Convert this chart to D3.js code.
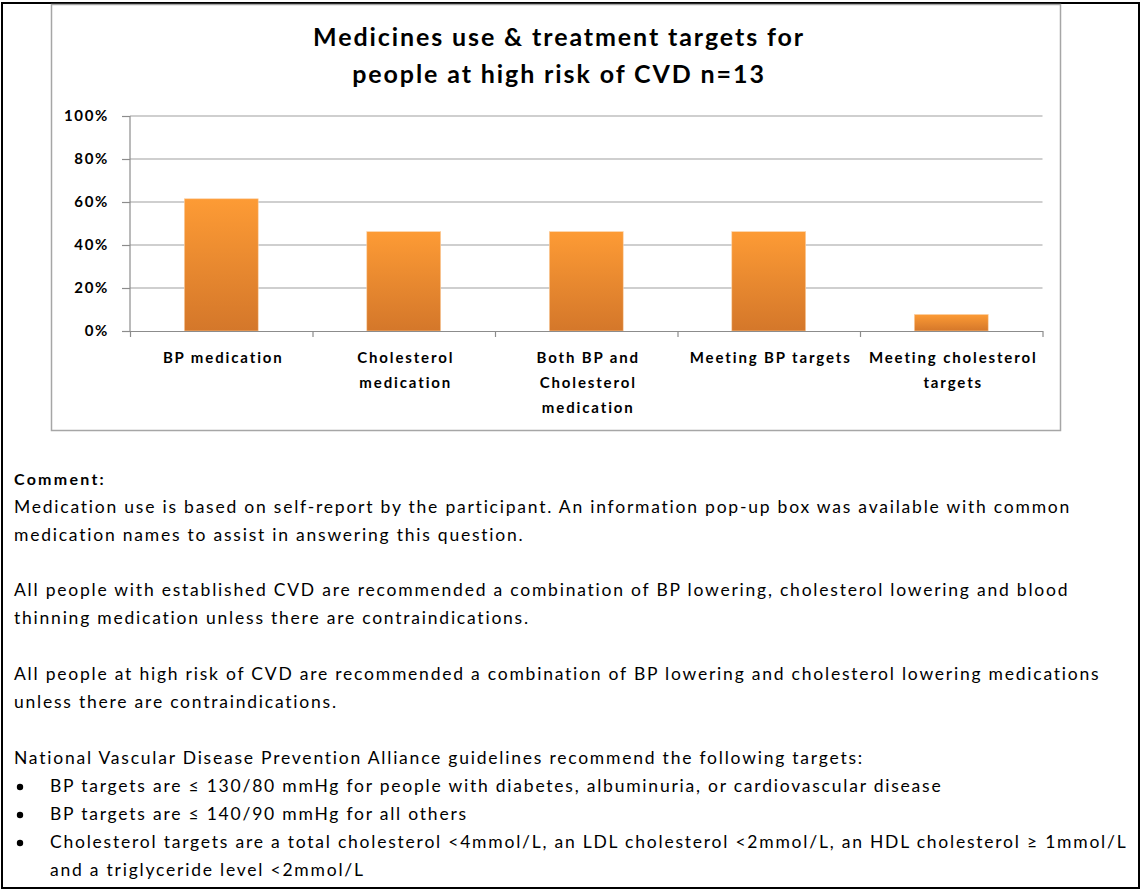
<!DOCTYPE html>
<html>
<head>
<meta charset="utf-8">
<script src="https://cdn.jsdelivr.net/npm/d3@7"></script>
<style>
  body { margin: 0; background: #fff; }
  svg { display: block; }
</style>
</head>
<body>
<svg width="1141" height="890"></svg>
<script>
// data
let categories = [
    ["BP medication"],
    ["Cholesterol", "medication"],
    ["Both BP and", "Cholesterol", "medication"],
    ["Meeting BP targets"],
    ["Meeting cholesterol", "targets"]
];
let values = [0.615, 0.462, 0.462, 0.462, 0.077];
let yTicks = [0, 0.2, 0.4, 0.6, 0.8, 1.0];
let titleLines = ["Medicines use & treatment targets for", "people at high risk of CVD n=13"];

let commentLines = [
    "Medication use is based on self-report by the participant. An information pop-up box was available with common",
    "medication names to assist in answering this question.",
    "",
    "All people with established CVD are recommended a combination of BP lowering, cholesterol lowering and blood",
    "thinning medication unless there are contraindications.",
    "",
    "All people at high risk of CVD are recommended a combination of BP lowering and cholesterol lowering medications",
    "unless there are contraindications.",
    ""
];
let guideline = "National Vascular Disease Prevention Alliance guidelines recommend the following targets:";
let bullets = [
    ["BP targets are \u2264 130/80 mmHg for people with diabetes, albuminuria, or cardiovascular disease"],
    ["BP targets are \u2264 140/90 mmHg for all others"],
    ["Cholesterol targets are a total cholesterol <4mmol/L, an LDL cholesterol <2mmol/L, an HDL cholesterol \u2265 1mmol/L",
     "and a triglyceride level <2mmol/L"]
];

let svg = d3.select("svg");
let font = "Lato, 'Open Sans', sans-serif";

// spacing needed so that a text node gets the wanted width
function spacingFor(node, target) {
    let w = node.getComputedTextLength();
    let n = node.textContent.length;
    return (target - w) / n;
}

// outer frame
svg.append("rect")
    .attr("x", 2).attr("y", 3)
    .attr("width", 1137).attr("height", 885)
    .attr("fill", "none")
    .attr("stroke", "#000")
    .attr("stroke-width", 2);

// chart box
svg.append("rect")
    .attr("x", 51.5).attr("y", 4.5)
    .attr("width", 1009).attr("height", 426)
    .attr("fill", "#fff")
    .attr("stroke", "#a6a6a6")
    .attr("stroke-width", 1.5);

// title
let titles = svg.append("g").selectAll("text")
    .data(titleLines)
    .enter().append("text")
    .attr("x", 559)
    .attr("y", (d, i) => 46 + i * 37)
    .attr("text-anchor", "middle")
    .attr("font-family", font)
    .attr("font-weight", "bold")
    .attr("font-size", "25px")
    .attr("fill", "#000")
    .text(d => d);
let tSp = spacingFor(titles.nodes()[0], 492);
titles.attr("letter-spacing", tSp);

let x = d3.scaleBand()
    .domain(d3.range(categories.length))
    .range([130, 1042.5])
    .padding(0);

let y = d3.scaleLinear()
    .domain([0, 1])
    .range([331, 116]);

// gridlines
svg.append("g").selectAll("line")
    .data(yTicks.slice(1))
    .enter().append("line")
    .attr("x1", 130).attr("x2", 1042.5)
    .attr("y1", d => y(d)).attr("y2", d => y(d))
    .attr("stroke", "#a0a0a0")
    .attr("stroke-width", 1.2);

// gradient
let grad = svg.append("defs").append("linearGradient")
    .attr("id", "barGrad")
    .attr("x1", 0).attr("y1", 0).attr("x2", 0).attr("y2", 1);
grad.append("stop").attr("offset", "0%").attr("stop-color", "#fd9b35");
grad.append("stop").attr("offset", "100%").attr("stop-color", "#d4772a");

// bars
let barW = x.bandwidth() * 0.405;
svg.append("g").selectAll("rect")
    .data(values)
    .enter().append("rect")
    .attr("x", (d, i) => x(i) + (x.bandwidth() - barW) / 2)
    .attr("y", d => y(d))
    .attr("width", barW)
    .attr("height", d => y(0) - y(d))
    .attr("fill", "url(#barGrad)")
    .attr("stroke", "#fbd2a8")
    .attr("stroke-width", 0.6);

// y axis
let yAxis = d3.axisLeft(y)
    .tickValues(yTicks)
    .tickSize(8)
    .tickFormat(d3.format(".0%"));
let yg = svg.append("g")
    .attr("transform", "translate(130,0)")
    .call(yAxis);
yg.select(".domain").remove();
yg.append("line")
    .attr("x1", 0).attr("x2", 0)
    .attr("y1", y(1)).attr("y2", y(0))
    .attr("stroke", "#8c8c8c");
yg.selectAll("line").attr("stroke", "#8c8c8c").attr("stroke-width", 1.2);
let yLabels = yg.selectAll("text")
    .attr("font-family", font)
    .attr("font-weight", "bold")
    .attr("font-size", "15px")
    .attr("fill", "#000")
    .attr("x", -21);
let ySp = spacingFor(yLabels.nodes()[yLabels.size() - 1], 45);
yLabels.attr("letter-spacing", ySp);

// x axis
let xAxis = d3.axisBottom(d3.scaleLinear().domain([0, categories.length]).range([130, 1042.5]))
    .tickValues(d3.range(categories.length + 1))
    .tickSize(6)
    .tickSizeOuter(0)
    .tickFormat("");
let xg = svg.append("g")
    .attr("transform", "translate(0," + y(0) + ")")
    .call(xAxis);
xg.selectAll("path, line").attr("stroke", "#8c8c8c").attr("stroke-width", 1.2);

// category labels
let catLabels = svg.append("g").selectAll("text")
    .data(categories)
    .enter().append("text")
    .attr("x", (d, i) => x(i) + x.bandwidth() / 2 + 2)
    .attr("y", 363)
    .attr("text-anchor", "middle")
    .attr("font-family", font)
    .attr("font-weight", "bold")
    .attr("font-size", "15px")
    .attr("fill", "#000")
    .each(function (d) {
        d3.select(this).selectAll("tspan")
            .data(d)
            .enter().append("tspan")
            .attr("x", d3.select(this).attr("x"))
            .attr("dy", (t, j) => j === 0 ? 0 : 25)
            .text(t => t);
    });
let cSp = spacingFor(catLabels.nodes()[0], 121);
catLabels.attr("letter-spacing", cSp);

// comment
let cm = svg.append("text")
    .attr("x", 14).attr("y", 485)
    .attr("font-family", font)
    .attr("font-weight", "bold")
    .attr("font-size", "16px")
    .text("Comment:");
cm.attr("letter-spacing", spacingFor(cm.node(), 92));

let body = svg.append("g")
    .attr("font-family", font)
    .attr("font-size", "17.5px")
    .attr("fill", "#000");

let cmLines = body.selectAll("text.cm")
    .data(commentLines)
    .enter().append("text")
    .attr("class", "cm")
    .attr("x", 14)
    .attr("y", (d, i) => 513 + i * 27.8)
    .text(d => d);

let bSp = spacingFor(cmLines.nodes()[0], 1058);
body.attr("letter-spacing", bSp);

body.append("text")
    .attr("x", 14).attr("y", 764)
    .text(guideline);

let by = 792;
bullets.forEach(function (b) {
    body.append("circle")
        .attr("cx", 20).attr("cy", by - 5)
        .attr("r", 3.2)
        .attr("fill", "#000");
    b.forEach(function (line) {
        body.append("text")
            .attr("x", 50).attr("y", by)
            .text(line);
        by += 28;
    });
});
</script>
</body>
</html>
